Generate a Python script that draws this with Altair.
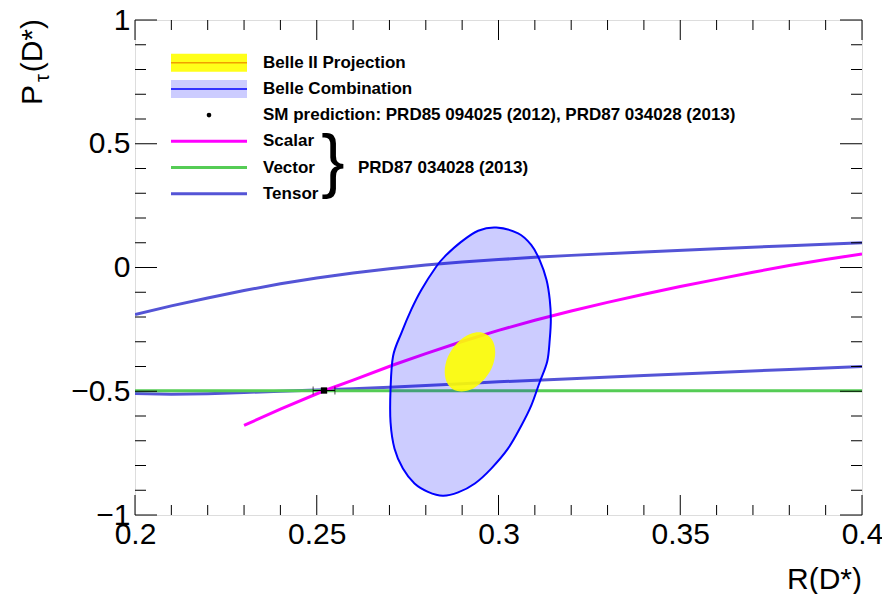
import altair as alt
import pandas as pd

# ---------------- data ----------------
x_major = [0.2, 0.25, 0.3, 0.35, 0.4]
x_minor = [0.21, 0.22, 0.23, 0.24, 0.26, 0.27, 0.28, 0.29, 0.31, 0.32, 0.33, 0.34,
           0.36, 0.37, 0.38, 0.39]
y_major = [-1, -0.5, 0, 0.5, 1]
y_minor = [-0.9, -0.8, -0.7, -0.6, -0.4, -0.3, -0.2, -0.1, 0.1, 0.2, 0.3, 0.4,
           0.6, 0.7, 0.8, 0.9]

scalar_r = [0.230, 0.240, 0.252, 0.260, 0.271, 0.280, 0.290, 0.300, 0.310, 0.320,
            0.330, 0.340, 0.350, 0.360, 0.370, 0.380, 0.390, 0.400]
scalar_p = [-0.638, -0.572, -0.498, -0.455, -0.394, -0.348, -0.299, -0.254, -0.213, -0.176,
            -0.141, -0.108, -0.077, -0.048, -0.019, 0.008, 0.032, 0.055]

vector_r = [0.200, 0.400]
vector_p = [-0.498, -0.498]

tensor_up_r = [0.200, 0.210, 0.220, 0.230, 0.240, 0.250, 0.260, 0.270, 0.280, 0.290,
               0.300, 0.310, 0.320, 0.340, 0.360, 0.380, 0.400]
tensor_up_p = [-0.190, -0.155, -0.123, -0.093, -0.066, -0.042, -0.022, -0.005, 0.010, 0.022,
               0.032, 0.041, 0.049, 0.063, 0.076, 0.088, 0.100]
tensor_lo_r = [0.200, 0.210, 0.220, 0.230, 0.240, 0.250, 0.260, 0.270, 0.280, 0.290,
               0.300, 0.320, 0.340, 0.360, 0.380, 0.400]
tensor_lo_p = [-0.509, -0.512, -0.510, -0.505, -0.500, -0.495, -0.490, -0.484, -0.477, -0.470,
               -0.462, -0.449, -0.436, -0.424, -0.412, -0.400]

sm_r = [0.252]
sm_p = [-0.497]
sm_err = [0.003]

belle_r = [0.2994, 0.3054, 0.3090, 0.3113, 0.3132, 0.3141, 0.3144, 0.3141, 0.3134,
           0.3113, 0.3090, 0.3063, 0.3026, 0.2980, 0.2935, 0.2889, 0.2847, 0.2806, 0.2769,
           0.2737, 0.2714, 0.2703, 0.2703, 0.2710, 0.2733, 0.2760, 0.2788, 0.2829, 0.2852,
           0.2898, 0.2944]
belle_p = [0.1618, 0.1378, 0.0912, 0.0309, -0.0494, -0.1297, -0.2100, -0.2903, -0.3800,
           -0.4646, -0.5582, -0.6385, -0.7321, -0.8124, -0.8727, -0.9088, -0.9225, -0.9064, -0.8727,
           -0.8124, -0.7321, -0.6253, -0.4911, -0.3574, -0.2638, -0.1699, -0.0895, 0.0040, 0.0442,
           0.1044, 0.1486]

belle2_r = [0.2991, 0.2982, 0.2956, 0.2922, 0.2887, 0.2861, 0.2852, 0.2861, 0.2887, 0.2922,
            0.2956, 0.2982]
belle2_p = [-0.3421, -0.2907, -0.2638, -0.2687, -0.3036, -0.3594, -0.4209, -0.4723, -0.4992, -0.4944,
            -0.4594, -0.4036]

legend_labels = ["Belle II Projection", "Belle Combination",
                 "SM prediction: PRD85 094025 (2012), PRD87 034028 (2013)",
                 "Scalar", "Vector", "Tensor"]
brace_label = "PRD87 034028 (2013)"

# ---------------- styling ----------------
W, H = 727, 495
FONT = "Liberation Sans"
C_SCALAR = "#ff00ff"
C_VECTOR = "#55cc55"
C_TENSOR = "#5454d6"
C_BLUE = "#0000ff"
C_YELLOW = "#ffff00"

xs = alt.Scale(domain=[0.2, 0.4], nice=False, zero=False)
ys = alt.Scale(domain=[-1, 1], nice=False, zero=False)
xaxis = alt.Axis(values=x_major, format="~g", title=None, domain=False, ticks=False, tickSize=0,
                 grid=False, labelFont=FONT, labelFontSize=30, labelColor="black",
                 labelPadding=4, labelFlush=False, labelOverlap=False, labelBound=False)
yaxis = alt.Axis(values=y_major, format="~g", title=None, domain=False, ticks=False, tickSize=0,
                 grid=False, labelFont=FONT, labelFontSize=30, labelColor="black",
                 labelPadding=5, labelOverlap=False, labelBound=False)

layers = []


def X(field):
    return alt.X(field, type="quantitative", scale=xs, axis=xaxis)


def Y(field):
    return alt.Y(field, type="quantitative", scale=ys, axis=yaxis)


def curve(r, p, color, width):
    df = pd.DataFrame({"r": r, "p": p, "i": list(range(len(r)))})
    return alt.Chart(df).mark_line(color=color, strokeWidth=width, clip=True).encode(
        x=X("r"), y=Y("p"), order=alt.Order("i:Q"))


# theory curves
layers.append(curve(tensor_up_r, tensor_up_p, C_TENSOR, 3))
layers.append(curve(tensor_lo_r, tensor_lo_p, C_TENSOR, 3))
layers.append(curve(vector_r, vector_p, C_VECTOR, 3))
layers.append(curve(scalar_r, scalar_p, C_SCALAR, 3))

# Belle combination contour
belle_df = pd.DataFrame({"r": belle_r, "p": belle_p, "i": list(range(len(belle_r)))})
layers.append(alt.Chart(belle_df).mark_line(
    interpolate="cardinal-closed", fill=C_BLUE, fillOpacity=0.2, stroke=C_BLUE,
    strokeWidth=2, clip=True).encode(x=X("r"), y=Y("p"), order=alt.Order("i:Q")))

# Belle II projection
belle2_df = pd.DataFrame({"r": belle2_r, "p": belle2_p, "i": list(range(len(belle2_r)))})
layers.append(alt.Chart(belle2_df).mark_line(
    interpolate="cardinal-closed", fill=C_YELLOW, fillOpacity=0.9, strokeOpacity=0,
    clip=True).encode(x=X("r"), y=Y("p"), order=alt.Order("i:Q")))

# SM prediction
sm_df = pd.DataFrame({"r": sm_r, "p": sm_p,
                      "lo": [a - e for a, e in zip(sm_r, sm_err)],
                      "hi": [a + e for a, e in zip(sm_r, sm_err)]})
layers.append(alt.Chart(sm_df).mark_rule(color="black", strokeWidth=1).encode(
    x=X("lo"), x2="hi", y=Y("p")))
layers.append(alt.Chart(sm_df).mark_tick(orient="vertical", size=8, thickness=1, color="black").encode(
    x=X("lo"), y=Y("p")))
layers.append(alt.Chart(sm_df).mark_tick(orient="vertical", size=8, thickness=1, color="black").encode(
    x=X("hi"), y=Y("p")))
layers.append(alt.Chart(sm_df).mark_square(size=40, color="black", opacity=1).encode(
    x=X("r"), y=Y("p")))

# inward ticks on all four sides
for vals, ln in [(x_major, 20), (x_minor, 10)]:
    d = pd.DataFrame({"v": vals})
    layers.append(alt.Chart(d).mark_rule(color="black", strokeWidth=1).encode(
        x=X("v"), y=alt.value(H), y2=alt.value(H - ln)))
    layers.append(alt.Chart(d).mark_rule(color="black", strokeWidth=1).encode(
        x=X("v"), y=alt.value(0), y2=alt.value(ln)))
for vals, ln in [(y_major, 22), (y_minor, 11)]:
    d = pd.DataFrame({"v": vals})
    layers.append(alt.Chart(d).mark_rule(color="black", strokeWidth=1).encode(
        y=Y("v"), x=alt.value(0), x2=alt.value(ln)))
    layers.append(alt.Chart(d).mark_rule(color="black", strokeWidth=1).encode(
        y=Y("v"), x=alt.value(W), x2=alt.value(W - ln)))

# ---------------- legend (drawn in pixel space of the plot) ----------------
one = pd.DataFrame({"k": [0]})
rows = [42.7, 68.9, 95.1, 121.3, 147.5, 173.7]
sx0, sx1, tx = 36, 112, 128

layers.append(alt.Chart(one).mark_rect(color=C_YELLOW, opacity=0.9).encode(
    x=alt.value(sx0), x2=alt.value(sx1), y=alt.value(rows[0] - 9), y2=alt.value(rows[0] + 9)))
layers.append(alt.Chart(one).mark_rule(color="#f0a000", strokeWidth=1.5).encode(
    x=alt.value(sx0), x2=alt.value(sx1), y=alt.value(rows[0])))
layers.append(alt.Chart(one).mark_rect(color=C_BLUE, opacity=0.2).encode(
    x=alt.value(sx0), x2=alt.value(sx1), y=alt.value(rows[1] - 9), y2=alt.value(rows[1] + 9)))
layers.append(alt.Chart(one).mark_rule(color=C_BLUE, strokeWidth=1.5).encode(
    x=alt.value(sx0), x2=alt.value(sx1), y=alt.value(rows[1])))
layers.append(alt.Chart(one).mark_circle(color="black", size=22, opacity=1).encode(
    x=alt.value((sx0 + sx1) / 2), y=alt.value(rows[2])))
for row, col in [(rows[3], C_SCALAR), (rows[4], C_VECTOR), (rows[5], C_TENSOR)]:
    layers.append(alt.Chart(one).mark_rule(color=col, strokeWidth=3).encode(
        x=alt.value(sx0), x2=alt.value(sx1), y=alt.value(row)))
for row, lab in zip(rows, legend_labels):
    layers.append(alt.Chart(one).mark_text(
        text=lab, font=FONT, fontSize=17, fontWeight="bold", align="left",
        baseline="middle", color="black").encode(x=alt.value(tx), y=alt.value(row)))
layers.append(alt.Chart(one).mark_text(
    text="}", font=FONT, fontSize=70, align="center", baseline="middle",
    color="black").encode(x=alt.value(198), y=alt.value(143)))
layers.append(alt.Chart(one).mark_text(
    text=brace_label, font=FONT, fontSize=17, fontWeight="bold", align="left",
    baseline="middle", color="black").encode(x=alt.value(223), y=alt.value(148)))

# ---------------- axis titles ----------------
layers.append(alt.Chart(one).mark_text(
    text="R(D*)", font=FONT, fontSize=30, align="right", baseline="alphabetic",
    color="black").encode(x=alt.value(W), y=alt.value(569)))
layers.append(alt.Chart(one).mark_text(
    text="(D*)", font=FONT, fontSize=30, align="right", baseline="alphabetic", angle=270,
    color="black").encode(x=alt.value(-93), y=alt.value(-1)))
layers.append(alt.Chart(one).mark_text(
    text="τ", font=FONT, fontSize=20, align="right", baseline="alphabetic", angle=270,
    color="black").encode(x=alt.value(-86), y=alt.value(54)))
layers.append(alt.Chart(one).mark_text(
    text="P", font=FONT, fontSize=30, align="right", baseline="alphabetic", angle=270,
    color="black").encode(x=alt.value(-93), y=alt.value(65)))

chart = alt.layer(*layers).properties(
    width=W, height=H,
    autosize=alt.AutoSizeParams(type="none"),
    padding={"left": 127, "top": 12, "right": 20, "bottom": 79},
).configure_view(stroke="black", strokeWidth=1).configure(background="white")

chart.save("out.html", embed_options={"renderer": "svg", "actions": False})
